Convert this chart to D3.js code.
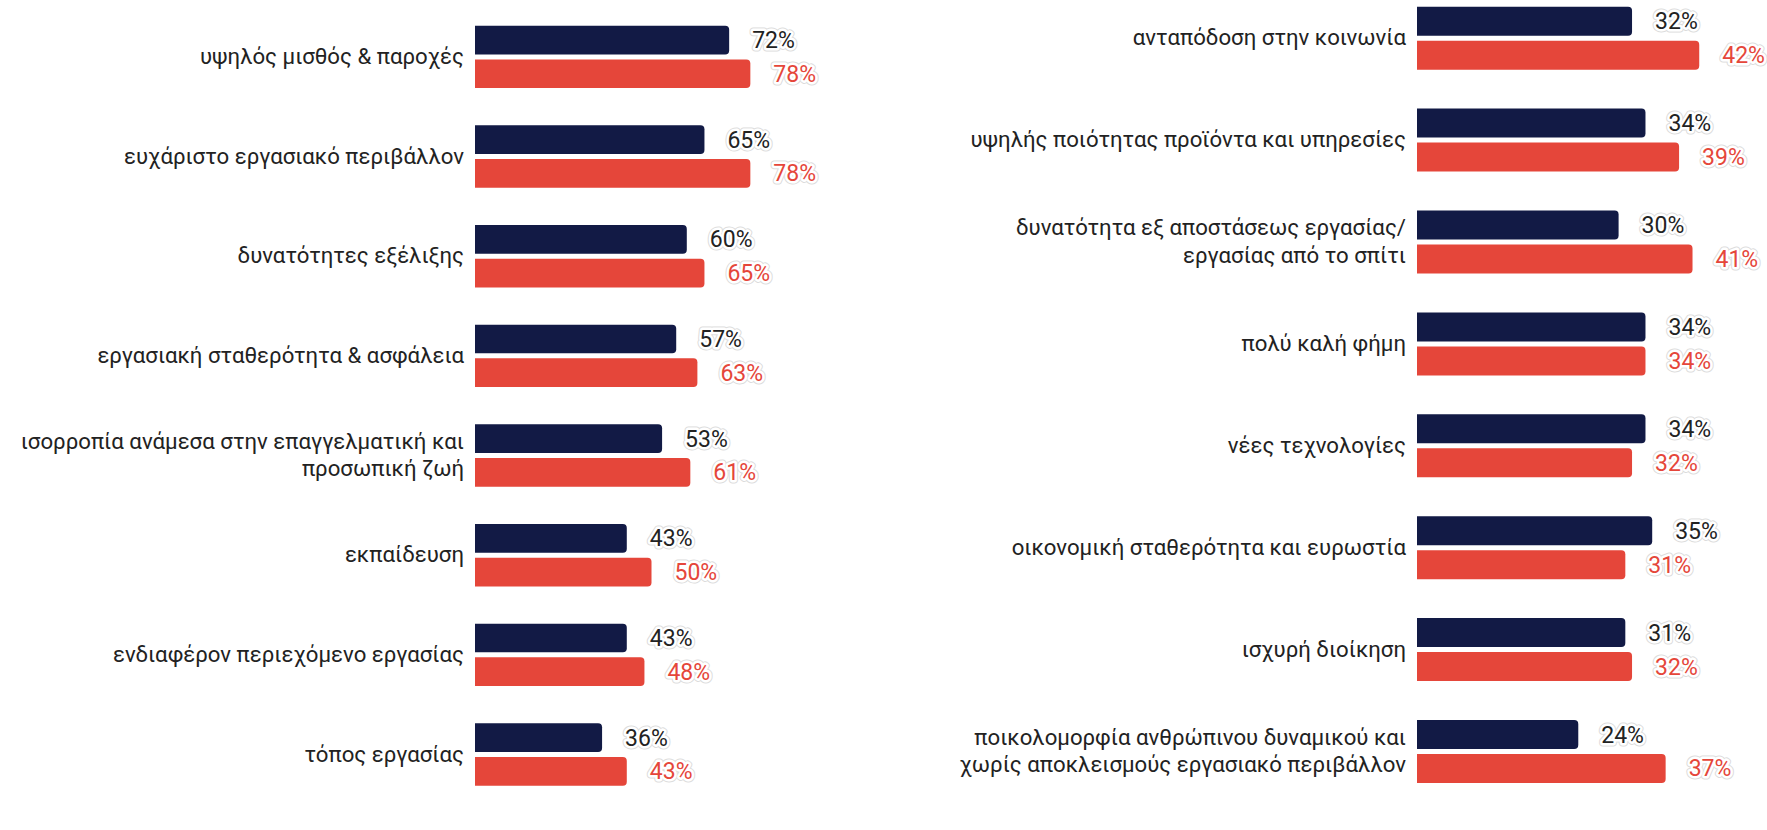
<!DOCTYPE html>
<html>
<head>
<meta charset="utf-8">
<script src="https://cdn.jsdelivr.net/npm/d3@7"></script>
<style>
  body { margin: 0; background: #fff; }
  svg { display: block; font-family: Roboto, "Noto Sans", sans-serif; }
  .cat { font-size: 22.2px; fill: #222; }
  .val { font-size: 23px; paint-order: stroke; stroke-linejoin: round; }
</style>
</head>
<body>
<svg id="chart" width="1767" height="830"></svg>
<script>
// left panel
var leftCats = [
  ["υψηλός μισθός & παροχές"],
  ["ευχάριστο εργασιακό περιβάλλον"],
  ["δυνατότητες εξέλιξης"],
  ["εργασιακή σταθερότητα & ασφάλεια"],
  ["ισορροπία ανάμεσα στην επαγγελματική και", "προσωπική ζωή"],
  ["εκπαίδευση"],
  ["ενδιαφέρον περιεχόμενο εργασίας"],
  ["τόπος εργασίας"]
];
var leftNavy = [72, 65, 60, 57, 53, 43, 43, 36];
var leftRed = [78, 78, 65, 63, 61, 50, 48, 43];

// right panel
var rightCats = [
  ["ανταπόδοση στην κοινωνία"],
  ["υψηλής ποιότητας προϊόντα και υπηρεσίες"],
  ["δυνατότητα εξ αποστάσεως εργασίας/", "εργασίας από το σπίτι"],
  ["πολύ καλή φήμη"],
  ["νέες τεχνολογίες"],
  ["οικονομική σταθερότητα και ευρωστία"],
  ["ισχυρή διοίκηση"],
  ["ποικολομορφία ανθρώπινου δυναμικού και", "χωρίς αποκλεισμούς εργασιακό περιβάλλον"]
];
var rightNavy = [32, 34, 30, 34, 34, 35, 31, 24];
var rightRed = [42, 39, 41, 34, 32, 31, 32, 37];

var navyColor = "#121a45";
var redColor = "#e5463a";

var svg = d3.select("#chart");

// bar with square left edge and rounded right corners
function barPath(x0, x1, y, h, r) {
  r = Math.min(r, (x1 - x0) / 2, h / 2);
  return "M" + x0 + "," + y +
    "H" + (x1 - r) +
    "Q" + x1 + "," + y + " " + x1 + "," + (y + r) +
    "V" + (y + h - r) +
    "Q" + x1 + "," + (y + h) + " " + (x1 - r) + "," + (y + h) +
    "H" + x0 + "Z";
}

function drawPanel(cats, navy, red, xScale, yScale) {
  var g = svg.append("g");
  var gap = 5;
  var bh = (yScale.bandwidth() - gap) / 2;
  var x0 = xScale(0);

  var rows = cats.map(function(c, i) {
    return { idx: i, lines: c, navy: navy[i], red: red[i] };
  });

  var row = g.selectAll("g.row").data(rows).enter().append("g")
    .attr("class", "row")
    .attr("transform", function(d) { return "translate(0," + yScale(d.idx) + ")"; });

  row.append("path")
    .attr("fill", navyColor)
    .attr("d", function(d) { return barPath(x0, xScale(d.navy), 0, bh, 4); });
  row.append("path")
    .attr("fill", redColor)
    .attr("d", function(d) { return barPath(x0, xScale(d.red), bh + gap, bh, 4); });

  // category labels, right aligned before bars
  var mid = yScale.bandwidth() / 2;
  var lineH = 27.4;
  var txt = row.append("text")
    .attr("class", "cat")
    .attr("text-anchor", "end")
    .attr("x", x0 - 11);
  txt.selectAll("tspan").data(function(d) { return d.lines; }).enter().append("tspan")
    .attr("x", x0 - 11)
    .attr("y", function(l, j, nodes) {
      var n = nodes.length;
      return mid + 7 + (j - (n - 1) / 2) * lineH;
    })
    .text(function(l) { return l; });

  // value labels with halo
  [["navy", 0, "#222"], ["red", bh + gap, redColor]].forEach(function(s) {
    var key = s[0], off = s[1], col = s[2];
    row.append("text")
      .attr("class", "val")
      .attr("x", function(d) { return xScale(d[key]) + 23; })
      .attr("y", off + bh / 2 + 8)
      .attr("fill", "none")
      .attr("stroke", "#dcdcdc")
      .attr("stroke-width", 7)
      .text(function(d) { return d[key] + "%"; });
    row.append("text")
      .attr("class", "val")
      .attr("x", function(d) { return xScale(d[key]) + 23; })
      .attr("y", off + bh / 2 + 8)
      .attr("fill", col)
      .attr("stroke", "#fff")
      .attr("stroke-width", 5)
      .text(function(d) { return d[key] + "%"; });
  });
}

var xLeft = d3.scaleLinear().domain([0, 100]).range([475, 828]);
var yLeft = d3.scaleBand().domain(d3.range(leftCats.length))
  .range([25.7, 785.7]).paddingInner(0.374).paddingOuter(0);

var xRight = d3.scaleLinear().domain([0, 50]).range([1417, 1753]);
var yRight = d3.scaleBand().domain(d3.range(rightCats.length))
  .range([6.7, 783]).paddingInner(0.382).paddingOuter(0);

drawPanel(leftCats, leftNavy, leftRed, xLeft, yLeft);
drawPanel(rightCats, rightNavy, rightRed, xRight, yRight);
</script>
</body>
</html>
